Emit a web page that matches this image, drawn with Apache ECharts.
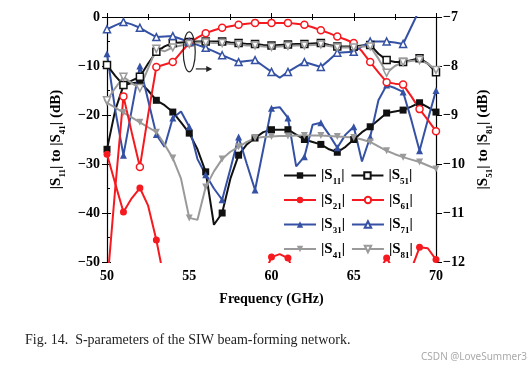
<!DOCTYPE html>
<html><head><meta charset="utf-8">
<script src="https://cdn.jsdelivr.net/npm/echarts@6/dist/echarts.min.js"></script>
<style>html,body{margin:0;padding:0;background:#fff;}#c{width:531px;height:371px;}</style>
</head><body><div id="c"></div>
<script>
// ---- data (frequency in GHz, 0.5 GHz step) ----
const freq = [50,50.5,51,51.5,52,52.5,53,53.5,54,54.5,55,55.5,56,56.5,57,57.5,58,58.5,59,59.5,60,60.5,61,61.5,62,62.5,63,63.5,64,64.5,65,65.5,66,66.5,67,67.5,68,68.5,69,69.5,70];
// left axis series (dB)
const s11 = [-27,-19,-14,-13.5,-13.3,-15,-17,-18,-19.4,-21.5,-23.7,-27,-31.6,-42.4,-40,-33,-28.2,-26,-24.7,-23.5,-23,-23,-23,-24,-25,-25.5,-26,-27,-27.6,-26.5,-25,-23.5,-22.4,-21,-19.6,-19.3,-19,-18.3,-17.5,-18.4,-19.4];
const s21 = [-28,-34,-39.8,-37,-34.9,-38.5,-45.5,-54,-60,-60,-60,-60,-60,-60,-60,-60,-60,-60,-60,-53,-49,-48.4,-49.2,-53,-60,-60,-60,-60,-60,-60,-60,-60,-60,-52,-49.2,-52,-60,-51.5,-47,-47.2,-49.5];
const s31 = [-7.5,-19,-28.2,-19,-10,-17,-24,-26.5,-20.6,-19.3,-22.4,-29,-32.2,-35,-37.3,-31,-24.5,-30,-35.3,-27,-18.6,-18.4,-20.6,-30.5,-28.5,-22,-21.6,-24,-26.7,-24,-22.4,-29.5,-24.5,-17,-13.9,-14.5,-15.3,-21,-27.3,-21,-15];
const s41 = [-17.5,-18.5,-19.5,-20.5,-21.5,-22.5,-23.5,-26,-28.8,-33,-41,-41.4,-34.7,-31.5,-29,-27.5,-26.5,-25.5,-24.7,-24.5,-24.4,-24.3,-24.3,-24.2,-24.2,-24.2,-24.2,-24.3,-24.4,-24.5,-24.6,-25,-25.5,-26.4,-27.3,-28,-28.6,-29.1,-29.6,-30.3,-31];
// right axis series (dB)
const s51 = [-7.98,-8.2,-8.39,-8.3,-8.22,-7.95,-7.71,-7.6,-7.53,-7.52,-7.51,-7.5,-7.5,-7.5,-7.5,-7.52,-7.53,-7.55,-7.55,-7.57,-7.58,-7.57,-7.56,-7.55,-7.55,-7.54,-7.53,-7.57,-7.6,-7.6,-7.6,-7.58,-7.57,-7.75,-7.88,-7.92,-7.92,-7.88,-7.84,-7.95,-8.13];
const s61 = [-12.5,-10.5,-8.62,-9.35,-10.06,-9.0,-8.02,-7.97,-7.92,-7.72,-7.53,-7.42,-7.33,-7.27,-7.22,-7.19,-7.16,-7.14,-7.12,-7.12,-7.12,-7.12,-7.12,-7.14,-7.16,-7.21,-7.27,-7.33,-7.4,-7.46,-7.53,-7.7,-7.92,-8.13,-8.33,-8.36,-8.38,-8.62,-8.88,-9.1,-9.33];
const s71 = [-7.25,-7.17,-7.1,-7.15,-7.22,-7.32,-7.41,-7.4,-7.39,-7.45,-7.51,-7.57,-7.63,-7.7,-7.78,-7.85,-7.92,-7.9,-7.88,-8.0,-8.12,-8.24,-8.12,-8.02,-7.92,-7.97,-8.02,-7.88,-7.73,-7.72,-7.71,-7.6,-7.5,-7.5,-7.5,-7.52,-7.55,-7.2,-6.85,-6.5,-6.2];
const s81 = [-8.7,-8.45,-8.22,-8.35,-8.45,-8.05,-7.65,-7.7,-7.62,-7.58,-7.55,-7.52,-7.52,-7.53,-7.53,-7.55,-7.56,-7.58,-7.58,-7.6,-7.61,-7.6,-7.59,-7.58,-7.58,-7.57,-7.56,-7.59,-7.62,-7.62,-7.62,-7.6,-7.6,-7.85,-8.14,-8.0,-7.92,-7.9,-7.88,-7.95,-8.08];
const legendOrder = ['S11','S51','S21','S61','S31','S71','S41','S81'];
const xRange = [50, 70, 5];
const leftRange = [-50, 0, 10];
const rightRange = [-12, -7, 1];
// annotation anchor (ellipse around right-axis curves, arrow pointing right)
const ellipseAt = [55, -7.71];
const arrowFrom = [55.4, -8.06];
const arrowTo = [56.4, -8.06];

const SERIF = 'Liberation Serif';
const BLACK = '#111111', RED = '#f51a1f', BLUE = '#3451a4', GREY = '#9a9a9a';
const minus = v => String(v).replace('-', '\u2212');
const rich = {
  s: {fontFamily: SERIF, fontWeight: 'bold', fontSize: 15, color: '#000'},
  b: {fontFamily: SERIF, fontWeight: 'bold', fontSize: 9, color: '#000', verticalAlign: 'bottom', lineHeight: 22}
};
function pts(arr) {
  return arr.map((v, i) => i % 2 === 0 ? [freq[i], v] : {value: [freq[i], v], symbol: 'none'});
}
function mk(name, arr, yi, color, symbol, filled, rot) {
  return {
    name, type: 'line', yAxisIndex: yi, data: pts(arr), symbol, symbolSize: 7, symbolRotate: rot || 0,
    showAllSymbol: true, clip: true,
    lineStyle: {color, width: 2},
    itemStyle: filled ? {color} : {color: '#fff', borderColor: color, borderWidth: 1.5},
    emphasis: {disabled: true}
  };
}
const axisLbl = {fontFamily: SERIF, fontWeight: 'bold', fontSize: 14, color: '#000'};
const chart = echarts.init(document.getElementById('c'), null, {renderer: 'canvas'});
chart.setOption({
  animation: false,
  backgroundColor: '#fff',
  grid: {left: 107, right: 95, top: 17, bottom: 109},
  xAxis: [{
    type: 'value', min: xRange[0], max: xRange[1], interval: xRange[2],
    name: 'Frequency (GHz)', nameLocation: 'middle', nameGap: 30,
    nameTextStyle: {fontFamily: SERIF, fontWeight: 'bold', fontSize: 14, color: '#000'},
    axisLine: {lineStyle: {color: '#000', width: 1.2}},
    axisTick: {inside: true, length: 4, lineStyle: {color: '#000'}},
    minorTick: {show: true, splitNumber: 2, length: 3, lineStyle: {color: '#000'}},
    axisLabel: Object.assign({margin: 7}, axisLbl),
    splitLine: {show: false}
  }, {
    type: 'value', position: 'top', min: xRange[0], max: xRange[1], interval: xRange[2],
    axisLine: {lineStyle: {color: '#000', width: 1.2}},
    axisTick: {inside: true, length: 4, lineStyle: {color: '#000'}},
    minorTick: {show: true, splitNumber: 2, length: 3, lineStyle: {color: '#000'}},
    axisLabel: {show: false}, splitLine: {show: false}
  }],
  yAxis: [{
    type: 'value', position: 'left', min: leftRange[0], max: leftRange[1], interval: leftRange[2],
    name: '|{s|S}{b|11}| to |{s|S}{b|41}| (dB)', nameLocation: 'middle', nameGap: 37, nameRotate: 90,
    nameTextStyle: {fontFamily: SERIF, fontWeight: 'bold', fontSize: 15, color: '#000', rich},
    axisLine: {show: true, lineStyle: {color: '#000', width: 1.2}},
    axisTick: {show: true, inside: false, length: 5, lineStyle: {color: '#000'}},
    axisLabel: Object.assign({margin: 7, formatter: minus}, axisLbl),
    splitLine: {show: false}
  }, {
    type: 'value', position: 'right', min: rightRange[0], max: rightRange[1], interval: rightRange[2],
    name: '|{s|S}{b|51}| to |{s|S}{b|81}| (dB)', nameLocation: 'middle', nameGap: 35, nameRotate: 90,
    nameTextStyle: {fontFamily: SERIF, fontWeight: 'bold', fontSize: 15, color: '#000', rich},
    axisLine: {show: true, lineStyle: {color: '#000', width: 1.2}},
    axisTick: {show: true, inside: false, length: 6, lineStyle: {color: '#000'}},
    axisLabel: Object.assign({margin: 7, formatter: minus}, axisLbl),
    splitLine: {show: false}
  }, {
    type: 'value', position: 'left', min: leftRange[0], max: leftRange[1], interval: leftRange[2],
    axisLine: {show: false}, axisLabel: {show: false}, splitLine: {show: false},
    axisTick: {show: true, inside: true, length: 4, lineStyle: {color: '#000'}},
    minorTick: {show: true, splitNumber: 2, length: 3, lineStyle: {color: '#000'}}
  }],
  legend: {
    data: legendOrder, left: 283, top: 168, width: 140, orient: 'horizontal', padding: 0,
    itemWidth: 32, itemHeight: 8, itemGap: 6, selectedMode: false,
    formatter: n => '|{s|S}{b|' + n.slice(1) + '}|',
    textStyle: {fontFamily: SERIF, fontWeight: 'bold', fontSize: 15, color: '#000', rich}
  },
  series: [
    mk('S11', s11, 0, BLACK, 'rect', true),
    mk('S21', s21, 0, RED, 'circle', true),
    mk('S31', s31, 0, BLUE, 'triangle', true),
    mk('S41', s41, 0, GREY, 'triangle', true, 180),
    mk('S51', s51, 1, BLACK, 'rect', false),
    mk('S61', s61, 1, RED, 'circle', false),
    mk('S71', s71, 1, BLUE, 'triangle', false),
    mk('S81', s81, 1, GREY, 'triangle', false, 180)
  ]
});
const px = f => chart.convertToPixel({xAxisIndex: 0}, f);
const pyR = v => chart.convertToPixel({yAxisIndex: 1}, v);
const ex = px(ellipseAt[0]), ey = pyR(ellipseAt[1]);
const ax0 = px(arrowFrom[0]), ax1 = px(arrowTo[0]), ay = pyR(arrowFrom[1]);
chart.setOption({
  graphic: [
    {type: 'ellipse', shape: {cx: ex, cy: ey, rx: 6, ry: 20}, style: {fill: 'none', stroke: '#222', lineWidth: 1.2}, z: 100},
    {type: 'line', shape: {x1: ax0, y1: ay, x2: ax1 - 4, y2: ay}, style: {stroke: '#222', lineWidth: 1.2}, z: 100},
    {type: 'polygon', shape: {points: [[ax1 - 6, ay - 3], [ax1, ay], [ax1 - 6, ay + 3]]}, style: {fill: '#222'}, z: 100},
    {type: 'text', left: 25, top: 333, style: {text: 'Fig. 14.  S-parameters of the SIW beam-forming network.', font: '14px "Liberation Serif"', fill: '#222'}},
    {type: 'text', right: 4, top: 352, style: {text: 'CSDN @LoveSummer3', font: '10px "Noto Sans"', fill: '#aaa'}}
  ]
});
</script>
</body></html>
